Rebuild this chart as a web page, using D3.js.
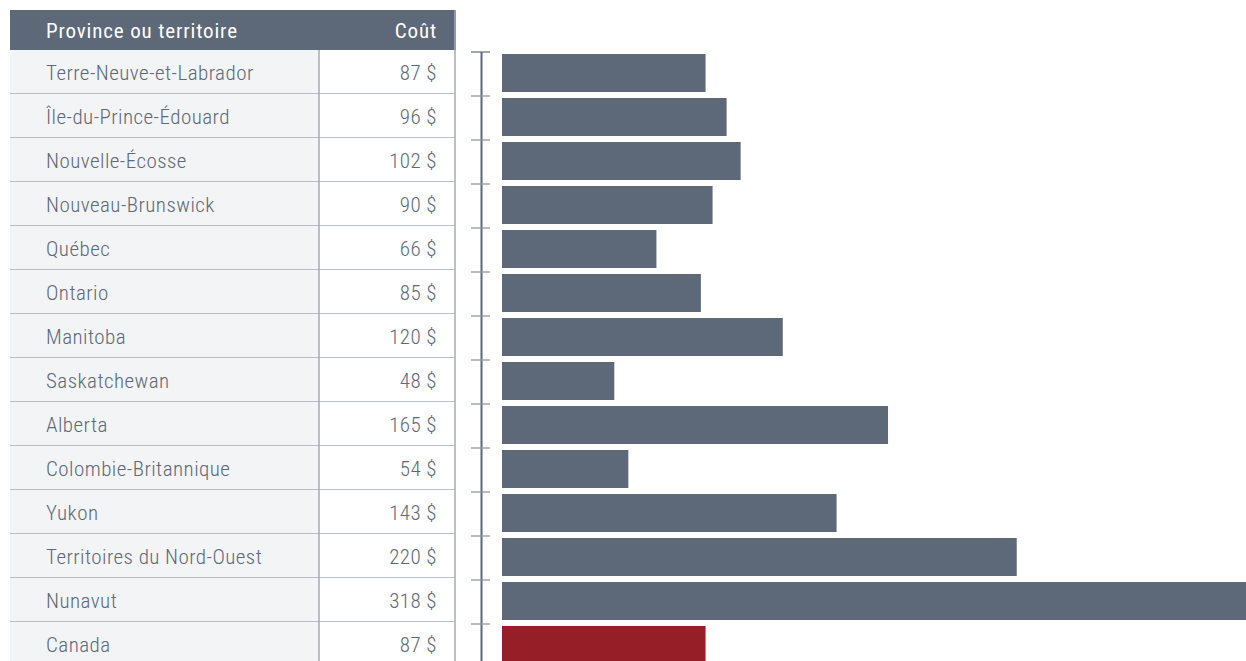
<!DOCTYPE html>
<html><head><meta charset="utf-8">
<script src="https://cdn.jsdelivr.net/npm/d3@7"></script>
<style>
html,body{margin:0;padding:0;background:#fff;overflow:hidden;}
text{font-family:"Roboto Condensed","Liberation Sans Narrow","DejaVu Sans Condensed",sans-serif;}
</style></head>
<body>
<svg id="c" width="1246" height="661"></svg>
<script>
const provinces = ["Terre-Neuve-et-Labrador","Île-du-Prince-Édouard","Nouvelle-Écosse","Nouveau-Brunswick","Québec","Ontario","Manitoba","Saskatchewan","Alberta","Colombie-Britannique","Yukon","Territoires du Nord-Ouest","Nunavut","Canada"];
const costs = [87,96,102,90,66,85,120,48,165,54,143,220,318,87];
const headers = ["Province ou territoire","Coût"];

const svg = d3.select("#c");
const grey = "#5d6878";
const rowH = 44, headTop = 10, headH = 40, tableX = 10, divX = 319, tableR = 455;
const rowY = d3.scaleBand().domain(provinces).range([headTop+headH, headTop+headH+rowH*provinces.length]);
const fs = 21, ls = "0.45px";

// header
svg.append("rect").attr("x",tableX).attr("y",headTop).attr("width",tableR-tableX+1).attr("height",headH).attr("fill",grey);
svg.append("text").attr("x",46).attr("y",headTop+headH/2).attr("dy","0.36em").attr("fill","#fff").attr("font-size",21).attr("letter-spacing","0.85px").text(headers[0]);
svg.append("text").attr("x",437).attr("y",headTop+headH/2).attr("dy","0.36em").attr("text-anchor","end").attr("fill","#fff").attr("font-size",21).attr("letter-spacing","0.85px").text(headers[1]);

// rows
const rows = svg.append("g").selectAll("g").data(provinces).join("g").attr("transform",d=>`translate(0,${rowY(d)})`);
rows.append("rect").attr("x",tableX).attr("width",divX-tableX).attr("height",rowH).attr("fill","#f3f4f6");
rows.append("rect").attr("x",divX).attr("width",tableR-divX).attr("height",rowH).attr("fill","#fff");
rows.append("line").attr("x1",tableX).attr("x2",tableR).attr("y1",rowH).attr("y2",rowH).attr("stroke","#a5abb4").attr("stroke-width",1.5);
rows.append("text").attr("x",46).attr("y",rowH/2).attr("dy","0.36em").attr("fill",grey).attr("font-size",fs).attr("font-weight",300).attr("letter-spacing",ls).text(d=>d);
rows.append("text").attr("x",437).attr("y",rowH/2).attr("dy","0.36em").attr("text-anchor","end").attr("fill",grey).attr("font-size",fs).attr("font-weight",300).attr("letter-spacing",ls).text((d,i)=>costs[i]+" $");
// vertical lines
svg.append("line").attr("x1",divX).attr("x2",divX).attr("y1",headTop+headH).attr("y2",661).attr("stroke","#a5abb4").attr("stroke-width",1.5);
svg.append("line").attr("x1",tableR).attr("x2",tableR).attr("y1",headTop).attr("y2",661).attr("stroke","#a5abb4").attr("stroke-width",1.5);

// bars
const y = d3.scaleBand().domain(provinces).range([52, 52+rowH*provinces.length]);
const x = d3.scaleLinear().domain([0,318]).range([502,1246]);
svg.append("g").selectAll("rect").data(provinces).join("rect")
  .attr("x",x(0)).attr("y",d=>y(d)+2).attr("height",38)
  .attr("width",(d,i)=>x(costs[i])-x(0))
  .attr("fill",d=>d==="Canada"?"#951e27":"#5d6878");

// axis
const ax = svg.append("g").attr("transform","translate(481.5,0)")
  .call(d3.axisLeft(y).tickSize(0).tickFormat(""));
ax.select(".domain").remove();
ax.append("line").attr("x1",0).attr("x2",0).attr("y1",52).attr("y2",661).attr("stroke",grey).attr("stroke-width",2);
const tickYs = provinces.map(d=>y(d));
ax.selectAll(".tk").data(tickYs).join("line").attr("class","tk")
  .attr("x1",-10.5).attr("x2",8.5).attr("y1",d=>d).attr("y2",d=>d)
  .attr("stroke",(d,i)=>i===0?grey:"#8a919b").attr("stroke-width",1.2);
</script>
</body></html>
